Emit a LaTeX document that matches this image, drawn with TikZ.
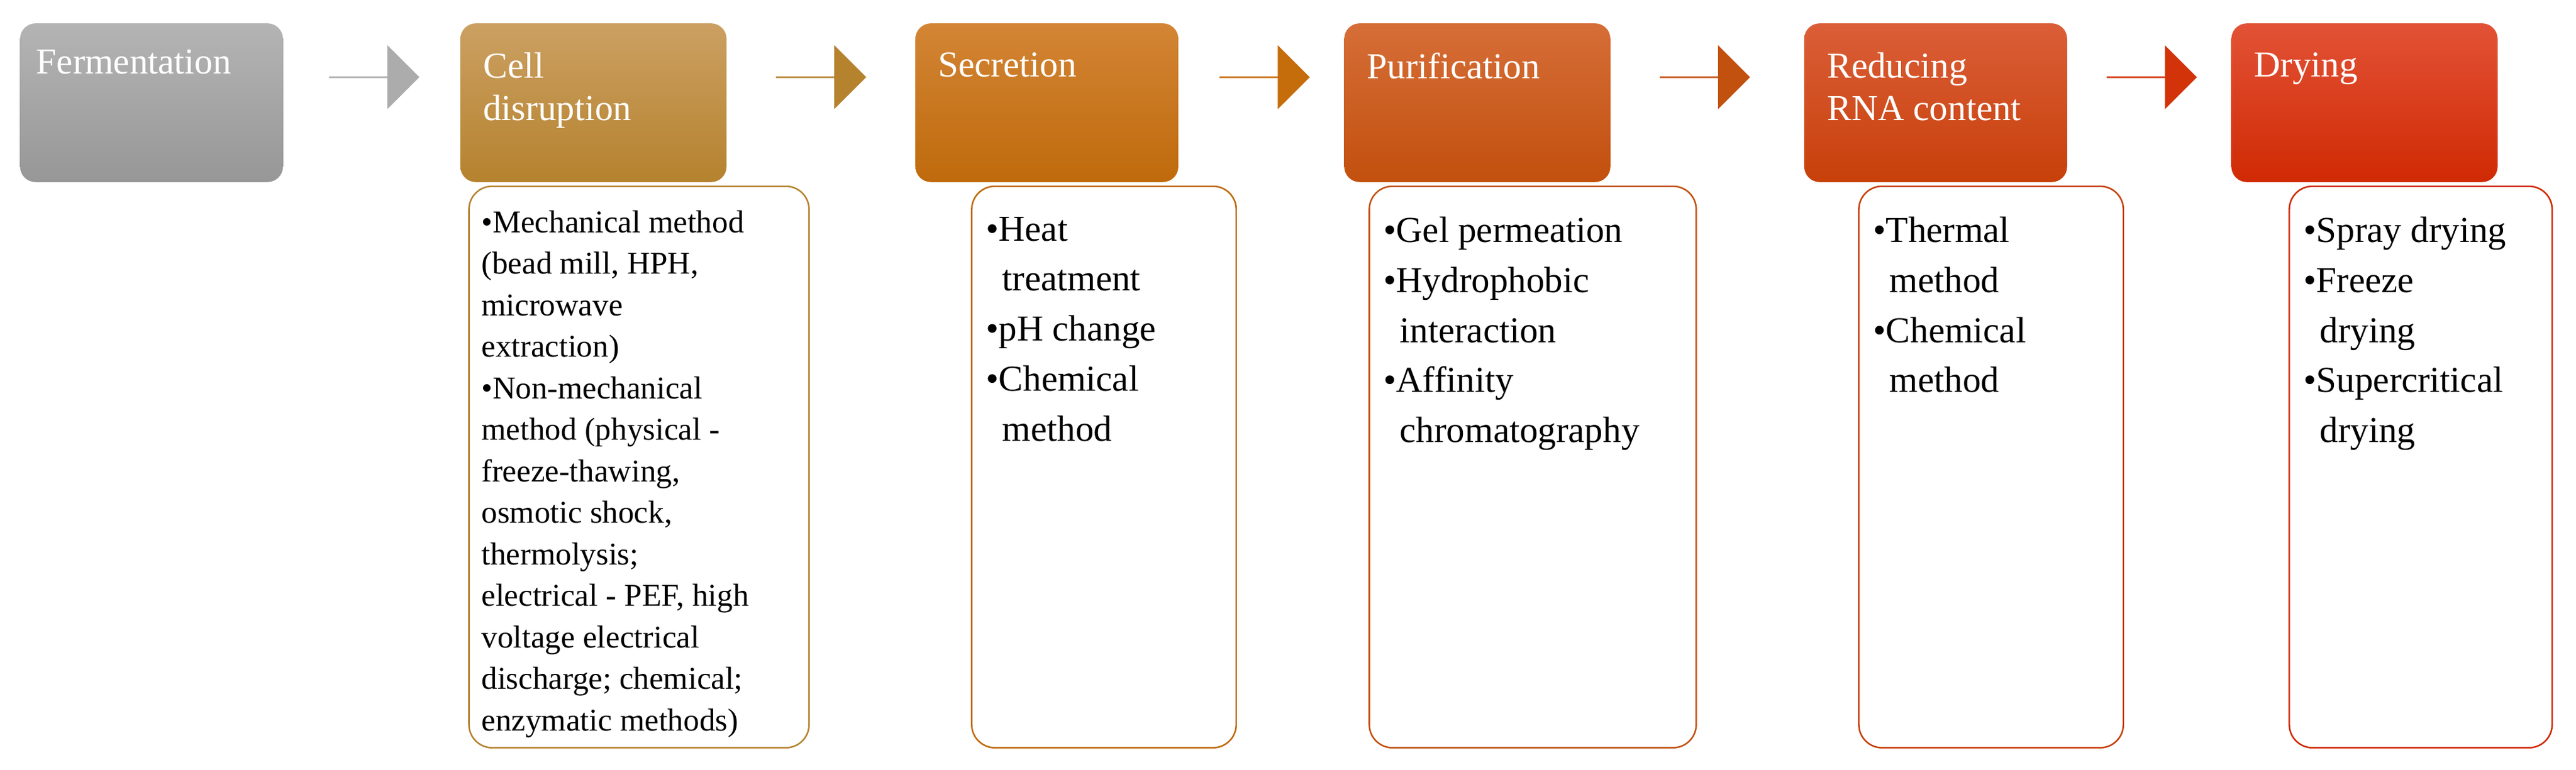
\documentclass[tikz,border=0pt]{standalone}
\usepackage{fontspec}
\setmainfont{Liberation Serif}
\usetikzlibrary{shapes.arrows,positioning}
\definecolor{grayT}{HTML}{B4B4B4}\definecolor{grayB}{HTML}{979797}
\definecolor{cellT}{HTML}{CBA062}\definecolor{cellB}{HTML}{B5822E}
\definecolor{secT}{HTML}{D38535}\definecolor{secB}{HTML}{BF6A0C}
\definecolor{purT}{HTML}{D66E38}\definecolor{purB}{HTML}{C2500E}
\definecolor{redT}{HTML}{DB5E38}\definecolor{redB}{HTML}{C7400A}
\definecolor{dryT}{HTML}{E25236}\definecolor{dryB}{HTML}{D02A04}
\tikzset{
step/.style={rectangle,rounded corners=8pt,top color=#1T,bottom color=#1B,draw=none,
    minimum width=4.8cm,minimum height=2.9cm,anchor=north west,inner sep=0pt},
info/.style={rectangle,rounded corners=12pt,draw=#1B,thick,fill=white,anchor=north west,
    inner sep=0pt,minimum height=342*0.03cm},
link/.style={single arrow,draw=none,fill=#1,minimum height=1.65cm,minimum width=1.17cm,
    single arrow head extend=0.27cm,single arrow head indent=0pt,inner sep=0pt,anchor=west},
head/.style={anchor=north west,text=white,align=left,font=\fontsize{19}{22}\selectfont},
list/.style={anchor=north west,align=left,font=\fontsize{19}{26}\selectfont}
}
\begin{document}
\begin{tikzpicture}[x=0.03cm,y=-0.03cm]
\useasboundingbox (0,0) rectangle (1568,469);
% process steps
\node[step=gray,minimum width=160*0.03cm] (ferm) at (12,14) {};
\node[head] (ferm-t) at (18,26) {Fermentation};
\foreach \n/\c/\x/\w/\t in {cell/cell/280/162/{Cell\\disruption},sec/sec/557/160/{Secretion},
    pur/pur/818/162/{Purification},red/red/1098/160/{Reducing\\RNA content},dry/dry/1358/162/{Drying}}{
  \node[step=\c,minimum width=\w*0.03cm] (\n) at (\x,14) {};
  \node[head] (\n-t) at (\x+10,28) {\t};
}
% arrows
\node[link=grayB!80] (a1) at (200,47) {};
\node[link=cellB] (a2) at (472,47) {};
\node[link=secB!90!orange] (a3) at (742,47) {};
\node[link=purB] (a4) at (1010,47) {};
\node[link=redB!80!red] (a5) at (1282,47) {};
% details
\node[info=cell,minimum width=207*0.03cm] (cell-i) at (285,113) {};
\node[list,font=\fontsize{16.5}{21.6}\selectfont] at (289,124)
 {\textbullet Mechanical method\\(bead mill, HPH,\\microwave\\extraction)\\
  \textbullet Non-mechanical\\method (physical -\\freeze-thawing,\\osmotic shock,\\thermolysis;\\
  electrical - PEF, high\\voltage electrical\\discharge; chemical;\\enzymatic methods)};
\node[info=sec,minimum width=161*0.03cm] (sec-i) at (591,113) {};
\node[list] at (596,128)
 {\textbullet Heat\\\hspace*{0.3cm}treatment\\\textbullet pH change\\\textbullet Chemical\\\hspace*{0.3cm}method};
\node[info=pur,minimum width=199*0.03cm] (pur-i) at (833,113) {};
\node[list] at (838,128)
 {\textbullet Gel permeation\\\textbullet Hydrophobic\\\hspace*{0.3cm}interaction\\\textbullet Affinity\\\hspace*{0.3cm}chromatography};
\node[info=red,minimum width=161*0.03cm] (red-i) at (1131,113) {};
\node[list] at (1136,128)
 {\textbullet Thermal\\\hspace*{0.3cm}method\\\textbullet Chemical\\\hspace*{0.3cm}method};
\node[info=dry,minimum width=160*0.03cm] (dry-i) at (1393,113) {};
\node[list] at (1398,128)
 {\textbullet Spray drying\\\textbullet Freeze\\\hspace*{0.3cm}drying\\\textbullet Supercritical\\\hspace*{0.3cm}drying};
\end{tikzpicture}
\end{document}
